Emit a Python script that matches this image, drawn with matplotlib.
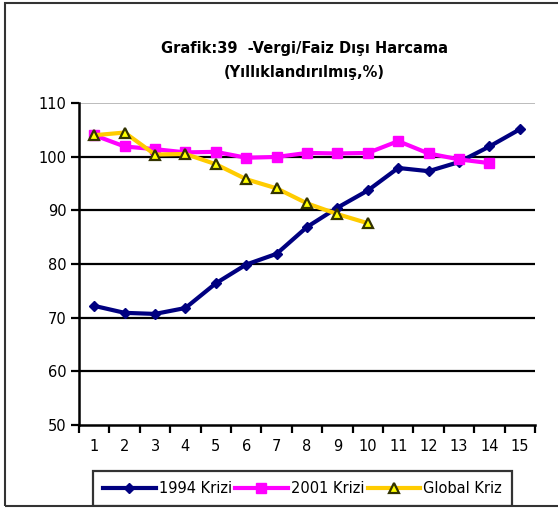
import numpy as np
import matplotlib.pyplot as plt
from matplotlib.patches import Rectangle

# Veriler
x = np.arange(1, 16)
kriz_1994 = [72.2, 70.9, 70.7, 71.8, 76.4, 79.9, 81.9, 86.9, 90.5, 93.7, 97.9, 97.3, 99.0, 101.9, 105.1]
kriz_2001 = [104.0, 101.9, 101.4, 100.8, 100.9, 99.8, 99.95, 100.7, 100.6, 100.7, 102.9, 100.6, 99.5, 98.8]
kriz_global = [104.0, 104.5, 100.4, 100.5, 98.6, 95.8, 94.1, 91.3, 89.3, 87.6]
y_ticks = [50, 60, 70, 80, 90, 100, 110]

plt.rcParams['font.family'] = ['DejaVu Sans']

fig = plt.figure(figsize=(5.58, 5.08), dpi=100)
ax = fig.add_axes([0.1416, 0.1634, 0.8172, 0.6338])

ax.plot(x, kriz_1994, color='#000080', lw=3, marker='D', ms=5, label='1994 Krizi', zorder=3)
ax.plot(x[:14], kriz_2001, color='#FF00FF', lw=3, marker='s', ms=6.5, label='2001 Krizi', zorder=3)
ax.plot(x[:10], kriz_global, color='#FFCC00', lw=3, marker='^', ms=7,
        mfc='#FFFF00', mec='#333300', mew=1.6, label='Global Kriz', zorder=4)

ax.set_xlim(0.5, 15.5)
ax.set_ylim(50, 110)

# Izgara çizgileri
for yv in y_ticks[1:-1]:
    ax.axhline(yv, color='black', lw=1.6, zorder=1)
ax.axhline(110, color='#b0b0b0', lw=1.2, zorder=1)

ax.set_yticks(y_ticks)
ax.set_xticks(np.arange(0.5, 16, 1))
ax.set_xticklabels([])
ax.set_xticks(x, minor=True)
ax.set_xticklabels([str(i) for i in x], minor=True)
ax.tick_params(axis='x', which='major', direction='out', length=6, width=1.6)
ax.tick_params(axis='x', which='minor', length=0, pad=10, labelsize=10.5)
ax.tick_params(axis='y', direction='out', length=6, width=1.6, labelsize=10.5, pad=3)

for s in ['top', 'right']:
    ax.spines[s].set_visible(False)
ax.spines['left'].set_linewidth(1.8)
ax.spines['bottom'].set_linewidth(1.8)

fig.text(0.545, 0.895, 'Grafik:39  -Vergi/Faiz Dışı Harcama', ha='center',
         fontsize=10.5, fontweight='bold')
fig.text(0.545, 0.848, '(Yıllıklandırılmış,%)', ha='center', fontsize=10.5, fontweight='bold')

leg = fig.legend(loc='lower left', bbox_to_anchor=(93/558, 2/508, (512-93)/558, 36/508),
                 mode='expand', ncol=3, frameon=True, fancybox=False, fontsize=10.5,
                 handlelength=3.6, handletextpad=0.2, columnspacing=0.8,
                 borderaxespad=0.0, borderpad=0.7)
leg.get_frame().set_edgecolor('black')
leg.get_frame().set_linewidth(1.6)

# Dış çerçeve
fig.patches.append(Rectangle((5/558, 2/508), 1.0, 503/508, transform=fig.transFigure,
                             fill=False, edgecolor='#333333', lw=1.5, zorder=10))
fig.patches.append(Rectangle((0, 0), 1, 2/508, transform=fig.transFigure,
                             color='white', zorder=9))

fig.savefig('out.png', dpi=100)
